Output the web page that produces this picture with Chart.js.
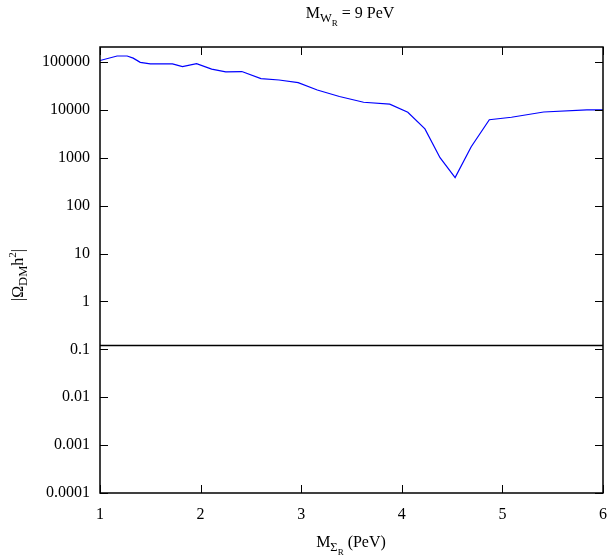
<!DOCTYPE html>
<html>
<head>
<meta charset="utf-8">
<script src="https://cdn.jsdelivr.net/npm/chart.js@4/dist/chart.umd.min.js"></script>
<style>
  body { margin: 0; background: #fff; }
  #wrap { width: 611px; height: 556px; }
</style>
</head>
<body>
<div id="wrap"><canvas id="myChart" width="611" height="556"></canvas></div>
<script>
// M_Sigma_R (PeV)
const massSigma = [1.00, 1.17, 1.27, 1.33, 1.40, 1.50, 1.72, 1.82, 1.96, 2.11, 2.25, 2.41, 2.60, 2.78, 2.97, 3.16, 3.38, 3.62, 3.88, 4.06, 4.23, 4.38, 4.53, 4.69, 4.87, 5.09, 5.41, 5.84, 6.00];
// |Omega_DM h^2|
const omegaValues = [107000, 133000, 133000, 120000, 98000, 91000, 91000, 80000, 92000, 71000, 62000, 63000, 45000, 42000, 37000, 26000, 19000, 14400, 13100, 8900, 4000, 1000, 385, 1700, 6200, 7000, 9000, 10000, 10000];
// observed relic density line
const planckX = [1, 6];
const planckY = [0.12, 0.12];

const xTickValues = [1, 2, 3, 4, 5, 6];
const xTickLabels = ['1', '2', '3', '4', '5', '6'];
const yTickValues = [100000, 10000, 1000, 100, 10, 1, 0.1, 0.01, 0.001, 0.0001];
const yTickLabels = ['100000', '10000', '1000', '100', '10', '1', '0.1', '0.01', '0.001', '0.0001'];

const FONT = '"Liberation Serif", "DejaVu Serif", serif';

// draw text with sub/superscripts, parts: [text, size, dy]
function richText(ctx, parts, x, y) {
    let w = 0;
    parts.forEach(p => { ctx.font = p[1] + 'px ' + FONT; w += ctx.measureText(p[0]).width; });
    let cx = x - w / 2;
    parts.forEach(p => {
        ctx.font = p[1] + 'px ' + FONT;
        ctx.fillText(p[0], cx, y + p[2]);
        cx += ctx.measureText(p[0]).width;
    });
}

const framePlugin = {
    id: 'frame',
    afterDraw(chart) {
        const ctx = chart.ctx;
        const a = chart.chartArea;
        const xs = chart.scales.x, ys = chart.scales.y;
        ctx.save();
        ctx.strokeStyle = '#000';
        ctx.lineWidth = 1.5;
        ctx.strokeRect(a.left, a.top, a.right - a.left, a.bottom - a.top);
        ctx.lineWidth = 1;
        const len = 8;
        ctx.beginPath();
        xTickValues.forEach(v => {
            const px = Math.round(xs.getPixelForValue(v)) + 0.5;
            ctx.moveTo(px, a.bottom); ctx.lineTo(px, a.bottom - len);
            ctx.moveTo(px, a.top); ctx.lineTo(px, a.top + len);
        });
        yTickValues.forEach(v => {
            const py = Math.round(ys.getPixelForValue(v)) + 0.5;
            ctx.moveTo(a.left, py); ctx.lineTo(a.left + len, py);
            ctx.moveTo(a.right, py); ctx.lineTo(a.right - len, py);
        });
        ctx.stroke();

        // titles
        ctx.fillStyle = '#000';
        ctx.textBaseline = 'alphabetic';
        ctx.textAlign = 'left';
        richText(ctx, [['M', 16, 0], ['W', 12.5, 4], ['R', 9, 8], [' = 9 PeV', 16, 0]], 350, 18);
        richText(ctx, [['M', 16, 0], ['\u03A3', 12.5, 4], ['R', 9, 8], [' (PeV)', 16, 0]], 351, 547);
        ctx.translate(23, 275);
        ctx.rotate(-Math.PI / 2);
        richText(ctx, [['|\u03A9', 16, 0], ['DM', 12.5, 4], ['h', 16, 0], ['2', 11, -7], ['|', 16, 0]], 0, 0);
        ctx.restore();
    }
};

window.onload = function () {
    const ctx = document.getElementById('myChart').getContext('2d');

    const data = {
        datasets: [
            {
                label: 'omega',
                data: massSigma.map((m, i) => ({ x: m, y: omegaValues[i] })),
                borderColor: '#0000ff',
                borderWidth: 1.2,
                pointRadius: 0,
                tension: 0,
                fill: false
            },
            {
                label: 'planck',
                data: planckX.map((m, i) => ({ x: m, y: planckY[i] })),
                borderColor: '#000000',
                borderWidth: 1.6,
                pointRadius: 0,
                fill: false
            }
        ]
    };

    const config = {
        type: 'line',
        data: data,
        options: {
            responsive: false,
            animation: false,
            layout: { padding: { top: 47, right: 2, left: 0, bottom: 0 } },
            plugins: {
                legend: { display: false },
                title: { display: false },
                tooltip: { enabled: false }
            },
            scales: {
                x: {
                    type: 'linear',
                    min: 1, max: 6,
                    grid: { display: false },
                    border: { display: false },
                    afterBuildTicks: s => { s.ticks = xTickValues.map(v => ({ value: v })); },
                    afterFit: s => { s.height = 63; },
                    ticks: {
                        padding: 4,
                        color: '#000',
                        font: { family: FONT, size: 16 },
                        maxRotation: 0,
                        callback: (v) => xTickLabels[xTickValues.indexOf(v)]
                    }
                },
                y: {
                    type: 'logarithmic',
                    min: 0.0001, max: 205000,
                    grid: { display: false },
                    border: { display: false },
                    afterBuildTicks: s => { s.ticks = yTickValues.map(v => ({ value: v })); },
                    afterFit: s => { s.width = 100; },
                    ticks: {
                        padding: 2,
                        color: '#000',
                        font: { family: FONT, size: 16 },
                        callback: (v) => yTickLabels[yTickValues.indexOf(v)]
                    }
                }
            }
        },
        plugins: [framePlugin]
    };

    const myChart = new Chart(ctx, config);
};
</script>
</body>
</html>
